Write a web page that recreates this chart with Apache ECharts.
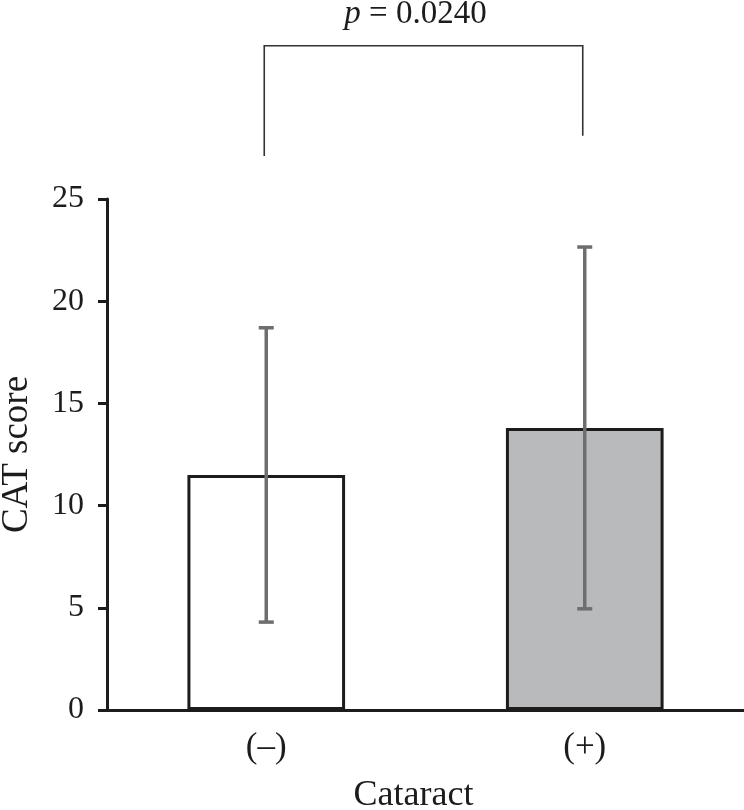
<!DOCTYPE html>
<html>
<head>
<meta charset="utf-8">
<script src="https://cdn.jsdelivr.net/npm/echarts@6/dist/echarts.min.js"></script>
<style>
  html, body { margin: 0; padding: 0; background: #fff; }
  #chart { width: 744px; height: 810px; }
</style>
</head>
<body>
<div id="chart"></div>
<script>
// data
const categories = ['(\u2013)', '(+)']
const means = [11.5, 13.8]
const sds = [7.2, 8.85]
const barColors = ['#ffffff', '#b9babc']
const yTicks = [0, 5, 10, 15, 20, 25]
const pLabel = '0.0240'
// bracket levels, in y-axis units (above the axis)
const bracketTop = 32.5
const bracketLegs = [27.1, 28.1]

const FONT = 'Liberation Serif'
const INK = '#1c1c1c'

const chart = echarts.init(document.getElementById('chart'))

const option = {
  animation: false,
  backgroundColor: '#fff',
  grid: { left: 107, right: 0, top: 199, bottom: 100, outerBoundsMode: 'none', containLabel: false },
  xAxis: {
    type: 'category',
    data: categories,
    name: 'Cataract',
    nameLocation: 'middle',
    nameGap: 68,
    nameTextStyle: { fontFamily: FONT, fontSize: 36, color: INK, padding: [0, 24, 0, 0] },
    axisLine: { lineStyle: { color: INK, width: 3 } },
    axisTick: { show: false },
    axisLabel: { fontFamily: FONT, fontSize: 35, color: INK, margin: 20 }
  },
  yAxis: {
    type: 'value',
    min: yTicks[0],
    max: yTicks[yTicks.length - 1],
    interval: 5,
    name: 'CAT score',
    nameLocation: 'middle',
    nameGap: 71,
    nameTextStyle: { fontFamily: FONT, fontSize: 37, color: INK },
    axisLine: { show: true, lineStyle: { color: INK, width: 3 } },
    axisTick: { show: true, length: 9, lineStyle: { color: INK, width: 3 } },
    axisLabel: { fontFamily: FONT, fontSize: 32, color: INK, margin: 23 },
    splitLine: { show: false }
  },
  series: [
    {
      type: 'bar',
      barWidth: '49.5%',
      data: means.map((m, i) => ({
        value: m,
        itemStyle: { color: barColors[i], borderColor: INK, borderWidth: 3 }
      })),
      z: 2
    },
    {
      type: 'custom',
      z: 5,
      data: means.map((m, i) => [i, m - sds[i], m + sds[i]]),
      renderItem: (params, api) => {
        const lo = api.coord([api.value(0), api.value(1)])
        const hi = api.coord([api.value(0), api.value(2)])
        const half = 7.5
        const style = { stroke: '#6e6e6e', lineWidth: 3.5 }
        return {
          type: 'group',
          children: [
            { type: 'line', shape: { x1: lo[0], y1: lo[1], x2: hi[0], y2: hi[1] }, style },
            { type: 'line', shape: { x1: hi[0] - half, y1: hi[1], x2: hi[0] + half, y2: hi[1] }, style },
            { type: 'line', shape: { x1: lo[0] - half, y1: lo[1], x2: lo[0] + half, y2: lo[1] }, style }
          ]
        }
      }
    }
  ]
}

chart.setOption(option)

// significance bracket placed through the axes' own scales
const xs = [0, 1].map(i => chart.convertToPixel({ xAxisIndex: 0 }, i) - 2)
const yTop = chart.convertToPixel({ yAxisIndex: 0 }, bracketTop)
const yLegs = bracketLegs.map(v => chart.convertToPixel({ yAxisIndex: 0 }, v))
const bracketStyle = { stroke: '#333', lineWidth: 1.6 }

chart.setOption({
  graphic: [
    {
      type: 'polyline',
      shape: { points: [[xs[0], yLegs[0]], [xs[0], yTop], [xs[1], yTop], [xs[1], yLegs[1]]] },
      style: Object.assign({ fill: null }, bracketStyle)
    },
    {
      type: 'text',
      x: (xs[0] + xs[1]) / 2 - 8,
      y: yTop - 31,
      style: {
        text: '{it|p} = ' + pLabel,
        align: 'center',
        verticalAlign: 'middle',
        font: '33px "Liberation Serif"',
        fill: INK,
        rich: {
          it: { fontStyle: 'italic', fontFamily: FONT, fontSize: 33, fill: INK }
        }
      }
    }
  ]
})
</script>
</body>
</html>
